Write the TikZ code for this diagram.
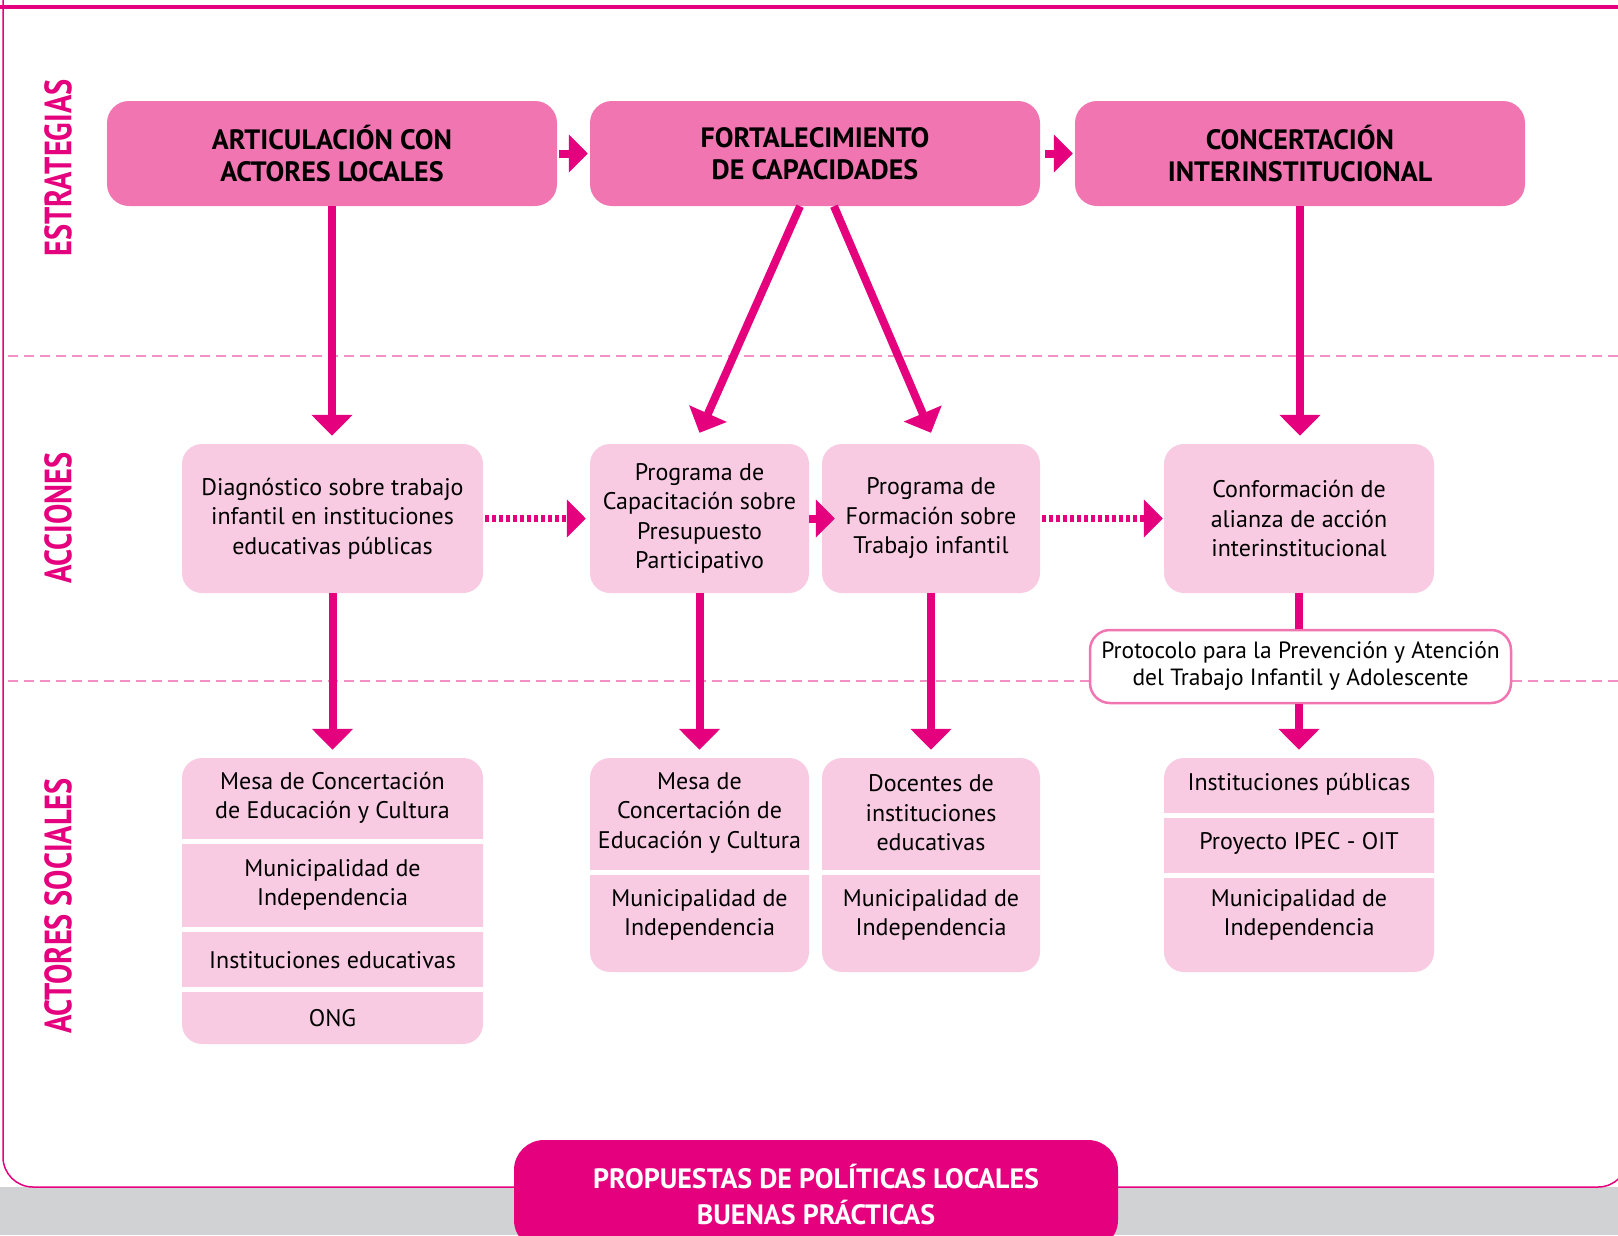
\documentclass[tikz,border=0pt]{standalone}
\usepackage{fontspec}
\setmainfont{PT Sans}
\newfontfamily\condfont[FakeStretch=0.8]{PT Sans}
\usetikzlibrary{positioning}
\usetikzlibrary{arrows.meta}

\definecolor{rosa}{HTML}{E5007D}
\definecolor{rosamedio}{HTML}{F075B1}
\definecolor{rosaclaro}{HTML}{F8CBE3}
\definecolor{rosadash}{HTML}{F190C3}
\definecolor{gris}{HTML}{D1D2D4}

\begin{document}
\begin{tikzpicture}[x=1pt,y=-1pt,
  estrategia/.style={fill=rosamedio, rounded corners=22pt, minimum width=450pt, minimum height=105pt, align=center, font=\fontsize{28}{32}\selectfont\bfseries},
  accion/.style={fill=rosaclaro, rounded corners=20pt, align=center, minimum height=149pt, font=\fontsize{24}{29.5}\selectfont},
  actores/.style={fill=rosaclaro, rounded corners=20pt},
  texto/.style={align=center, font=\fontsize{24}{29.5}\selectfont},
  etiqueta/.style={rotate=90, text=rosa, font=\condfont\fontsize{38}{38}\selectfont\bfseries},
  flecha/.style={draw=rosa, line width=8pt, -{Triangle[width=40pt,length=21pt]}},
  chica/.style={draw=rosa, line width=8pt, -{Triangle[width=37pt,length=19pt]}},
  punteada/.style={chica, line width=7pt, dash pattern=on 4pt off 3pt},
  separa/.style={draw=white, line width=5pt},
  divisoria/.style={draw=rosadash, line width=2pt, dash pattern=on 10pt off 6pt}]
 \useasboundingbox (0,0) rectangle (1618,1235);
 \clip (0,0) rectangle (1618,1235);
 % fondo y marco
 \fill[white] (0,0) rectangle (1618,1235);
 \fill[gris] (0,1187) rectangle (1618,1235);
 \draw[rosa, line width=1.5pt, rounded corners=30pt, fill=white] (3,0) -- (3,1187) -- (1628,1187) -- (1628,0);
 \draw[rosa, line width=4pt] (0,7) -- (1618,7);
 \draw[divisoria] (8,356) -- (1618,356);
 \draw[divisoria] (8,681) -- (1618,681);

 % etiquetas laterales
 \node[etiqueta] (lestr) at (58,168) {ESTRATEGIAS};
 \node[etiqueta] (lacc) at (58,518) {ACCIONES};
 \node[etiqueta] (lact) at (58,906) {ACTORES SOCIALES};

 % estrategias
 \node[estrategia] (art) at (332,153.5) {ARTICULACIÓN CON\\ACTORES LOCALES};
 \node[estrategia] (fort) at (815,153.5) {FORTALECIMIENTO\\DE CAPACIDADES};
 \node[estrategia] (conc) at (1300,153.5) {CONCERTACIÓN\\INTERINSTITUCIONAL};

 % acciones
 \node[accion, minimum width=301pt] (diag) at (332.5,518.5) {Diagnóstico sobre trabajo\\infantil en instituciones\\educativas públicas};
 \node[accion, minimum width=219pt] (capac) at (699.5,518.5) {Programa de\\Capacitación sobre\\Presupuesto\\Participativo};
 \node[accion, minimum width=218pt] (form) at (931,518.5) {Programa de\\Formación sobre\\Trabajo infantil};
 \node[accion, minimum width=270pt] (alianza) at (1299,518.5) {Conformación de\\alianza de acción\\interinstitucional};

 \node[draw=rosamedio, line width=2.5pt, fill=white, rounded corners=20pt, minimum width=421pt, minimum height=73pt, align=center, font=\fontsize{23.5}{27}\selectfont] (proto) at (1300.5,666.5) {Protocolo para la Prevención y Atención\\del Trabajo Infantil y Adolescente};

 % actores sociales
 \node[actores, minimum width=301pt, minimum height=286pt] (col1) at (332.5,901) {};
 \node[actores, minimum width=219pt, minimum height=214pt] (col2) at (699.5,865) {};
 \node[actores, minimum width=218pt, minimum height=214pt] (col3) at (931,865) {};
 \node[actores, minimum width=270pt, minimum height=214pt] (col4) at (1299,865) {};
 \draw[separa] (182,841.5) -- (483,841.5);
 \draw[separa] (182,929.5) -- (483,929.5);
 \draw[separa] (182,989.5) -- (483,989.5);
 \draw[separa] (590,872) -- (809,872);
 \draw[separa] (822,872) -- (1040,872);
 \draw[separa] (1164,815) -- (1434,815);
 \draw[separa] (1164,875) -- (1434,875);

 \node[texto] (mesa1) at (332.5,798) {Mesa de Concertación\\de Educación y Cultura};
 \node[texto] (muni1) at (332.5,885) {Municipalidad de\\Independencia};
 \node[texto] (inst1) at (332.5,960) {Instituciones educativas};
 \node[texto] (ong) at (332.5,1018) {ONG};
 \node[texto] (mesa2) at (699.5,813) {Mesa de\\Concertación de\\Educación y Cultura};
 \node[texto] (muni2) at (699.5,915) {Municipalidad de\\Independencia};
 \node[texto] (doc) at (931,813) {Docentes de\\instituciones\\educativas};
 \node[texto] (muni3) at (931,915) {Municipalidad de\\Independencia};
 \node[texto] (instp) at (1299,784) {Instituciones públicas};
 \node[texto] (ipec) at (1299,843) {Proyecto IPEC - OIT};
 \node[texto] (muni4) at (1299,915) {Municipalidad de\\Independencia};

 % flechas
 \draw[chica, shorten <=2pt, shorten >=2pt] (art.east) -- (fort.west);
 \draw[chica, shorten <=5pt, shorten >=2pt] (fort.east) -- (conc.west);
 \draw[flecha, shorten >=8pt] (art.south) -- (art.south |- diag.north);
 \draw[flecha] ([xshift=-15pt]fort.south) -- ([yshift=11pt]capac.north);
 \draw[flecha] ([xshift=19pt]fort.south) -- ([yshift=11pt]form.north);
 \draw[flecha, shorten >=8pt] (conc.south) -- (conc.south |- alianza.north);
 \draw[punteada, shorten <=2pt, shorten >=4pt] (diag.east) -- (capac.west);
 \draw[chica, shorten >=-13pt] (capac.east) -- (form.west);
 \draw[punteada, shorten <=2pt, shorten >=1pt] (form.east) -- (alianza.west);
 \draw[flecha, shorten >=8pt] (diag.south) -- (col1.north);
 \draw[flecha, shorten >=8pt] (capac.south) -- (col2.north);
 \draw[flecha, shorten >=8pt] (form.south) -- (col3.north);
 \draw[draw=rosa, line width=8pt] (alianza.south) -- (alianza.south |- proto.north);
 \draw[flecha, shorten >=8pt] (proto.south -| alianza.south) -- (alianza.south |- col4.north);

 % propuesta
 \node[fill=rosa, rounded corners=30pt, minimum width=604pt, minimum height=110pt, align=center, text=white, font=\fontsize{28}{36}\selectfont\bfseries] (propuesta) at (816,1195) {PROPUESTAS DE POLÍTICAS LOCALES\\BUENAS PRÁCTICAS};
\end{tikzpicture}
\end{document}
